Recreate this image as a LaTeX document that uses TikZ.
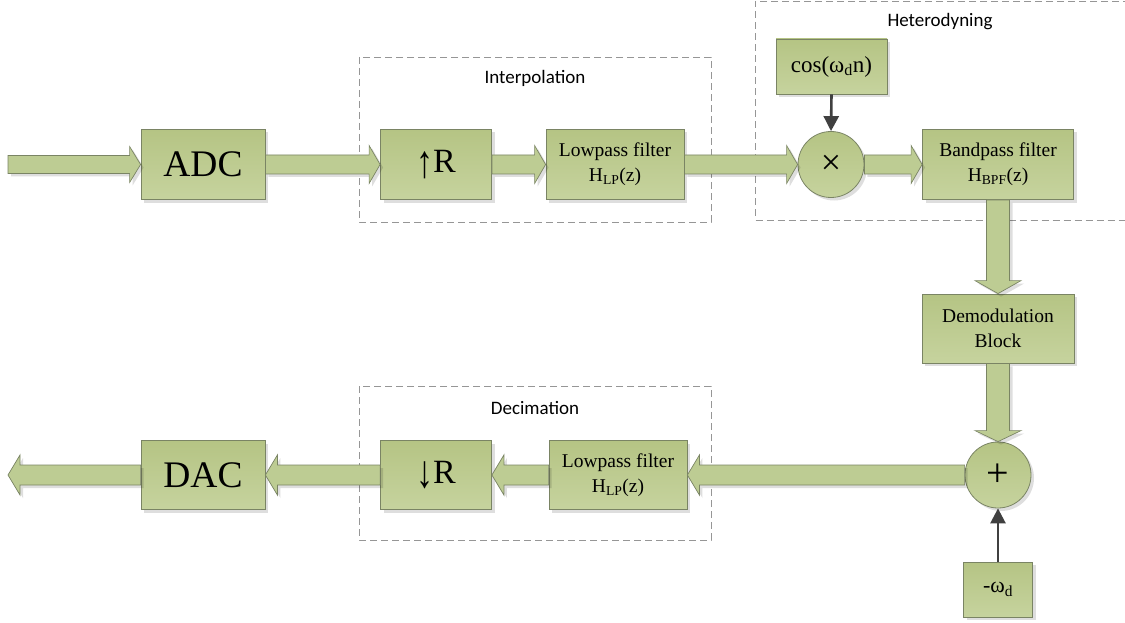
\documentclass[tikz,border=0pt]{standalone}
\usepackage{fontspec}
\usepackage{graphicx}
\setmainfont{Liberation Serif}
\newfontfamily\labelfont{Carlito}
\usetikzlibrary{calc,shadows,arrows.meta}
\definecolor{gfill}{RGB}{189,204,147}
\definecolor{gtop}{RGB}{181,196,132}
\definecolor{gbot}{RGB}{198,211,158}
\definecolor{gline}{RGB}{122,132,100}
\definecolor{dashgray}{RGB}{150,150,150}
\definecolor{darkline}{RGB}{64,64,64}

\newcommand\fat[5]{%
  \coordinate (fa) at (#1); \coordinate (fb) at (#2);
  \coordinate (fh) at ($(fb)!#5!(fa)$);
  \path[fatarrow] ($(fa)!#3!90:(fb)$) -- ($(fh)!#3!90:(fb)$) -- ($(fh)!#4!90:(fb)$) -- (fb)
    -- ($(fh)!#4!-90:(fb)$) -- ($(fh)!#3!-90:(fb)$) -- ($(fa)!#3!-90:(fb)$) -- cycle;}
\newcommand\tallarrow[1]{\raisebox{-0.14em}{\scalebox{1}[1.35]{#1}}}

\tikzset{
  shad/.style={drop shadow={shadow xshift=3pt,shadow yshift=-3pt,fill=black,opacity=0.13}},
  blk/.style={draw=gline, line width=0.8pt, top color=gtop, bottom color=gbot, shad,
    inner sep=0pt, align=center},
  circ/.style={blk, circle, minimum size=66pt},
  fatarrow/.style={draw=gline, line width=0.7pt, fill=gfill, shad},
  dbox/.style={draw=dashgray, line width=0.9pt, dash pattern=on 7pt off 4pt},
  grouplabel/.style={font=\labelfont\fontsize{19}{22}\selectfont, text=black},
  thinarrow/.style={draw=darkline, line width=2.6pt, -{Triangle[length=15pt,width=15pt]}},
  big/.style={font=\fontsize{37.5}{42}\selectfont},
  mid/.style={font=\fontsize{34}{40}\selectfont},
  small/.style={font=\fontsize{19.5}{25}\selectfont},
}

\begin{document}
\begin{tikzpicture}[x=1pt,y=-1pt]
\useasboundingbox (0,0) rectangle (1125,623);

% dashed group frames
\draw[dbox] (359,57) rectangle (711,222);
\draw[dbox] (359,386) rectangle (711,540);
\draw[dbox] (1130,1.5) -- (755,1.5) -- (755,220) -- (1130,220);
\node[grouplabel] (lint) at (535,78) {Interpolation};
\node[grouplabel] (ldec) at (535,408) {Decimation};
\node[grouplabel] (lhet) at (940,22) {Heterodyning};

% top row
\node[blk, big, minimum width=124pt, minimum height=70pt] (adc) at (203,164.5) {ADC};
\node[blk, mid, minimum width=111pt, minimum height=70pt] (upR) at (436,164.5) {\tallarrow{↑}R};
\node[blk, small, minimum width=138pt, minimum height=70pt] (lp1) at (615,164.5) {Lowpass filter\\H\textsubscript{LP}(z)};
\node[circ, font=\fontsize{36}{36}\selectfont] (mul) at (831,164.5) {×};
\node[blk, font=\fontsize{23}{28}\selectfont, minimum width=111pt, minimum height=55pt] (cos) at (831.5,66.5) {cos(ω\textsubscript{d}n)};
\node[blk, small, minimum width=151pt, minimum height=70pt] (bpf) at (998,164.5) {Bandpass filter\\H\textsubscript{BPF}(z)};

% right column
\node[blk, small, minimum width=152pt, minimum height=69pt] (demod) at (998,328.5) {Demodulation\\Block};
\node[circ, font=\fontsize{40}{40}\selectfont] (add) at (998,475) {+};
\node[blk, font=\fontsize{22}{26}\selectfont, minimum width=69pt, minimum height=55pt] (negw) at (998,589.5) {-ω\textsubscript{d}};

% bottom row
\node[blk, small, minimum width=138pt, minimum height=69pt] (lp2) at (618,475) {Lowpass filter\\H\textsubscript{LP}(z)};
\node[blk, mid, minimum width=111pt, minimum height=69pt] (downR) at (436,475) {\tallarrow{↓}R};
\node[blk, big, minimum width=124pt, minimum height=69pt] (dac) at (203,475) {DAC};

\coordinate (in) at (8,164.5);
\coordinate (out) at (8,475);

% fat arrows
\fat{in}{adc.west}{9pt}{18pt}{11pt}
\fat{adc.east}{upR.west}{9.5pt}{19pt}{11pt}
\fat{upR.east}{lp1.west}{9.5pt}{19pt}{11pt}
\fat{lp1.east}{mul.west}{9.5pt}{19pt}{11pt}
\fat{mul.east}{bpf.west}{9.5pt}{19pt}{11pt}
\fat{bpf.south}{demod.north}{11.5pt}{23pt}{13pt}
\fat{demod.south}{add.north}{11.5pt}{23pt}{11pt}
\fat{add.west}{lp2.east}{10pt}{20pt}{12pt}
\fat{lp2.west}{downR.east}{10pt}{20pt}{12pt}
\fat{downR.west}{dac.east}{10pt}{20pt}{12pt}
\fat{dac.west}{out}{10pt}{20pt}{12pt}

% thin arrows
\draw[thinarrow] (cos.south) -- (mul.north);
\draw[thinarrow] (negw.north) -- (add.south);
\end{tikzpicture}
\end{document}
